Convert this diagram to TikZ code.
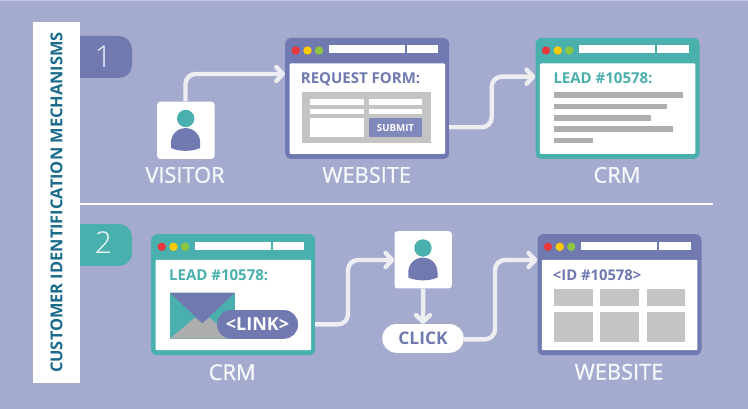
\documentclass[tikz,border=0pt]{standalone}
\usepackage{fontspec}
\setmainfont{Open Sans}
\newfontfamily\lightf{Open Sans Light}
\newfontfamily\regf[FakeBold=1]{Open Sans}
\usetikzlibrary{arrows.meta,calc}
\definecolor{bgc}{HTML}{A4ABCF}
\definecolor{bgtop}{HTML}{C3C8E0}
\definecolor{purp}{HTML}{7079B0}
\definecolor{tealc}{HTML}{4AB0AD}
\definecolor{subm}{HTML}{8088BC}
\definecolor{bluetxt}{HTML}{1B6C8C}
\definecolor{lbl}{HTML}{F7F8FC}
\definecolor{grayp}{HTML}{C4C4C4}
\definecolor{grayl}{HTML}{AEAEAE}
\definecolor{flow}{HTML}{EEEEF2}
\definecolor{redd}{HTML}{E8383D}
\definecolor{yell}{HTML}{FFCB05}
\definecolor{gree}{HTML}{8DC63F}
\tikzset{
  x=1pt,y=-1pt,
  lab/.style={text=lbl,anchor=base,inner sep=0pt,font=\regf\fontsize{21.8}{24}\selectfont},
  head/.style={anchor=base west,inner sep=0pt,font=\bfseries\fontsize{15}{18}\selectfont},
  flowline/.style={draw=flow,line width=4.4pt,rounded corners=10pt,-{Straight Barb[length=6.5pt,width=14pt,line width=4.4pt,round]}},
  graybar/.style={fill=grayl,draw=none},
  whitebar/.style={fill=white,draw=none},
  pill/.style={fill=purp,rounded corners=14pt,inner sep=0pt},
}
\newcommand{\windowbox}[4]{% name, left, top, colour
  \begin{scope}[shift={(#2,#3)}]
    \node[fill=#4,rounded corners=6pt,minimum width=164pt,minimum height=121pt,inner sep=0pt,anchor=north west] (#1) at (0,0) {};
    \fill[white,rounded corners=1pt] (4.5,25.8) rectangle (160,116.2);
    \fill[redd] (10.7,12.8) circle (4.2);
    \fill[yell] (22.5,12.8) circle (4.2);
    \fill[gree] (34,12.8) circle (4.2);
    \fill[white] (44,7.8) rectangle (120,15.8);
    \fill[white] (122,7.8) rectangle (153.3,15.8);
  \end{scope}
}
\newcommand{\personbox}[3]{% name, left, top
  \begin{scope}[shift={(#2,#3)}]
    \node[fill=white,rounded corners=3pt,minimum width=57.3pt,minimum height=57.3pt,inner sep=0pt,anchor=north west] (#1) at (0,0) {};
    \fill[tealc] (28.7,17) circle (8.7);
    \fill[purp] (14,46.5) -- (14,41.2) .. controls (14,33) and (20.5,26.6) .. (28.6,26.6)
       .. controls (36.7,26.6) and (43.2,33) .. (43.2,41.2) -- (43.2,46.5)
       .. controls (35,50.3) and (22,50.3) .. (14,46.5) -- cycle;
  \end{scope}
}
\begin{document}
\begin{tikzpicture}
\useasboundingbox (0,0) rectangle (748,409);
\fill[bgc] (0,0) rectangle (748,409);
\fill[bgtop] (0,0) rectangle (748,1);

% divider
\node[fill=white,minimum width=634pt,minimum height=2.6pt,inner sep=0pt,anchor=west] (divider) at (79,204) {};

% tabs
\fill[purp,rounded corners=13pt] (60,36) rectangle (132,78);
\fill[tealc,rounded corners=13pt] (60,224) rectangle (132,266);

% banner
\node[fill=white,minimum width=46.7pt,minimum height=360pt,inner sep=0pt,anchor=north west] (banner) at (33,22.3) {};
\node[rotate=90,text=bluetxt,inner sep=0pt,font=\bfseries\fontsize{16.4}{18}\selectfont] (bantxt) at (56.5,202.5) {CUSTOMER IDENTIFICATION MECHANISMS};
\node[text=lbl,inner sep=0pt,anchor=base,font=\lightf\fontsize{30}{32}\selectfont] (num1) at (103.5,68) {1};
\node[text=lbl,inner sep=0pt,anchor=base,font=\lightf\fontsize{30}{32}\selectfont] (num2) at (103.5,253.5) {2};

% row 1
\personbox{vis}{157}{101.5}
\windowbox{web1}{285}{37.7}{purp}
\windowbox{crm1}{535.3}{37.7}{tealc}

\fill[grayp] (302,92.3) rectangle (430.7,143.3);
\fill[whitebar] (310.3,99.3) rectangle (364,104.7);
\fill[whitebar] (369,99.3) rectangle (422,104.7);
\fill[whitebar] (310.3,108.7) rectangle (364,114);
\fill[whitebar] (369,108.7) rectangle (422,114);
\fill[whitebar] (310.3,118) rectangle (364,137.3);
\node[fill=subm,minimum width=53pt,minimum height=19.3pt,inner sep=0pt,text=white,font=\bfseries\fontsize{9.7}{11}\selectfont] (submit) at (395.5,127.6) {SUBMIT};
\node[head,text=purp] (reqform) at (300.7,84) {REQUEST FORM:};

\node[head,text=tealc] (lead1) at (553.3,84) {LEAD \#10578:};
\fill[graybar] (553.7,92.3) rectangle (683.3,98);
\fill[graybar] (553.7,103.7) rectangle (666.7,109.3);
\fill[graybar] (553.7,115) rectangle (651.3,120.7);
\fill[graybar] (553.7,126.3) rectangle (672.7,132);
\fill[graybar] (553.7,137.7) rectangle (593,143.3);

\node[lab] (lvis) at (185,182.7) {VISITOR};
\node[lab] (lweb1) at (366.7,182.7) {WEBSITE};
\node[lab] (lcrm1) at (617,182.7) {CRM};

% row 2
\windowbox{crm2}{151}{234}{tealc}
\personbox{per}{394.3}{231}
\windowbox{web2}{537.3}{234}{purp}

\node[head,text=tealc] (lead2) at (169,280.7) {LEAD \#10578:};
\fill[tealc] (170,292.7) rectangle (234.7,338.7);
\fill[grayl] (170,338.7) -- (195,317.5) -- (202.3,323.3) -- (209.5,317.5) -- (234.7,338.7) -- cycle;
\fill[purp] (170,292.7) -- (234.7,292.7) -- (202.3,323.3) -- cycle;
\node[pill,minimum width=81pt,minimum height=28.7pt,text=white,font=\bfseries\fontsize{18}{20}\selectfont] (link) at (257.5,324.4) {<LINK>};

\node[fill=white,rounded corners=14pt,minimum width=81.4pt,minimum height=28.7pt,inner sep=0pt,text=purp,font=\bfseries\fontsize{17.4}{19}\selectfont] (click) at (423,338.4) {CLICK};

\node[head,text=purp,font=\bfseries\fontsize{14.8}{18}\selectfont] (idtxt) at (552.7,280.7) {<ID \#10578>};
\foreach \xa/\xb in {554/592.7,600.3/639,646.7/685.3}{
  \fill[grayp] (\xa,289) rectangle (\xb,305.7);
  \fill[grayp] (\xa,312.3) rectangle (\xb,342);
}

\node[lab] (lcrm2) at (232.2,380) {CRM};
\node[lab] (lweb2) at (619,379.5) {WEBSITE};

% connectors
\coordinate (t1) at (185.5,74);
\draw[flowline] (vis.north -| t1) -- (t1) -- (t1 -| web1.west);
\coordinate (e1) at (449,127.3);
\coordinate (e2) at (491.7,76.7);
\draw[flowline] (e1) -- (e1 -| e2) -- (e2) -- (e2 -| crm1.west);
\coordinate (e3) at (315,324.3);
\coordinate (e4) at (348,260);
\draw[flowline] (e3) -- (e3 -| e4) -- (e4) -- (e4 -| per.west);
\draw[flowline] (per.south) -- (click.north);
\coordinate (e5) at (463.7,339.3);
\coordinate (e6) at (495,260);
\draw[flowline] (e5) -- (e5 -| e6) -- (e6) -- (e6 -| web2.west);
\end{tikzpicture}
\end{document}
